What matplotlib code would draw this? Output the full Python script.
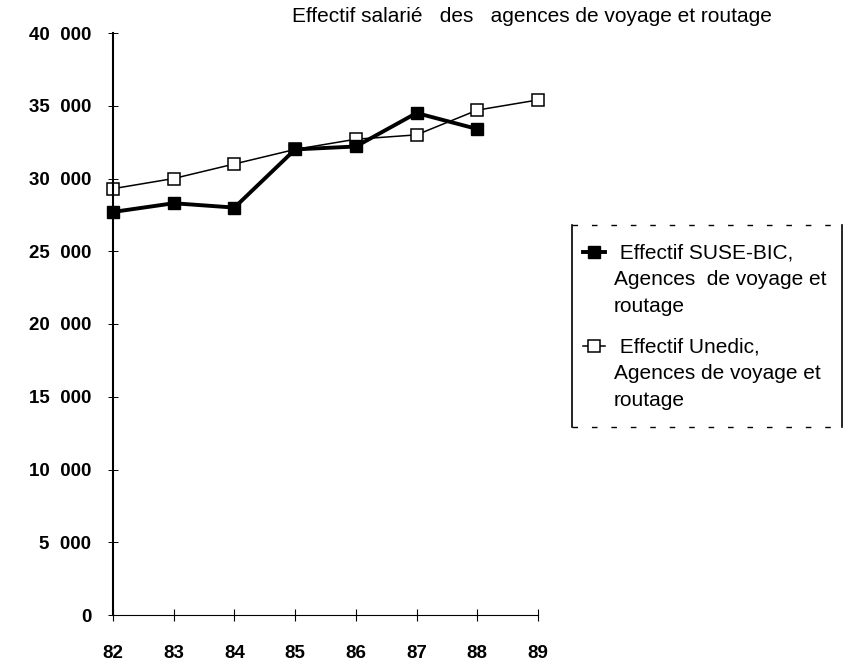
import matplotlib.pyplot as plt
from matplotlib.lines import Line2D
from matplotlib.ticker import FuncFormatter

# Données
annees = [82, 83, 84, 85, 86, 87, 88, 89]
suse_annees = [82, 83, 84, 85, 86, 87, 88]
suse_bic = [27700, 28300, 28000, 32000, 32200, 34500, 33400]
unedic = [29300, 30000, 31000, 32000, 32700, 33000, 34700, 35400]
y_ticks = [0, 5000, 10000, 15000, 20000, 25000, 30000, 35000, 40000]

titre = "Effectif salarié   des   agences de voyage et routage"
label_suse = " Effectif SUSE-BIC,\nAgences  de voyage et\nroutage"
label_unedic = " Effectif Unedic,\nAgences de voyage et\nroutage"

plt.rcParams["font.family"] = ["Liberation Sans", "DejaVu Sans"]

W, H = 852, 665
fig = plt.figure(figsize=(W / 100, H / 100), dpi=100)
ax = fig.add_axes([113 / W, 1 - 615 / H, (538 - 113) / W, (615 - 33) / H])

# Courbes
ax.plot(suse_annees, suse_bic, color="black", linewidth=2.8, marker="s",
        markersize=8, markerfacecolor="black", label=label_suse,
        clip_on=False, zorder=3)
ax.plot(annees, unedic, color="black", linewidth=1.1, marker="s",
        markersize=8.5, markerfacecolor="white", markeredgewidth=1.1,
        label=label_unedic, clip_on=False, zorder=2)

# Axes
ax.set_xlim(82, 89)
ax.set_ylim(0, 40000)
ax.set_xticks(annees)
ax.set_yticks(y_ticks)
ax.yaxis.set_major_formatter(
    FuncFormatter(lambda v, p: f"{int(v):,}".replace(",", "  ")))

for side in ["top", "right"]:
    ax.spines[side].set_visible(False)
ax.spines["left"].set_linewidth(1.5)
ax.spines["bottom"].set_linewidth(0.8)

ax.tick_params(axis="y", direction="inout", length=7, width=0.7, pad=12,
               labelsize=13.5)
ax.tick_params(axis="x", direction="inout", length=9, width=0.8, pad=17,
               labelsize=13.5)
for lab in ax.get_xticklabels() + ax.get_yticklabels():
    lab.set_fontweight("bold")

# Titre
fig.text(292 / W, 1 - 17 / H, titre, ha="left", va="center", fontsize=15)

# Légende (sans cadre, le cadre est tracé à part)
leg = ax.legend(loc="upper left", bbox_to_anchor=(583 / W, 1 - 244 / H),
                bbox_transform=fig.transFigure, frameon=False,
                fontsize=15, handlelength=1.05, handletextpad=0.43,
                labelspacing=1.05, borderpad=0, borderaxespad=0)
for t in leg.get_texts():
    t.set_linespacing(1.5)
# marqueurs de la légende au niveau de la première ligne
for h in leg.legend_handles:
    h.set_ydata([y + 20 for y in h.get_ydata()])

# Cadre de la légende
x0, x1 = 572 / W, 842 / W
y0, y1 = 1 - 427 / H, 1 - 225 / H
fig.add_artist(Line2D([x0, x0], [y0, y1], color="black", linewidth=1.2))
fig.add_artist(Line2D([x1, x1], [y0, y1], color="black", linewidth=1.2))
fig.add_artist(Line2D([x0, x1], [y1, y1], color="black", linewidth=1.0,
                      linestyle=(0, (4, 10))))
fig.add_artist(Line2D([x0, x1], [y0, y0], color="black", linewidth=1.0,
                      linestyle=(0, (4, 10))))

fig.savefig("out.png", dpi=100)
